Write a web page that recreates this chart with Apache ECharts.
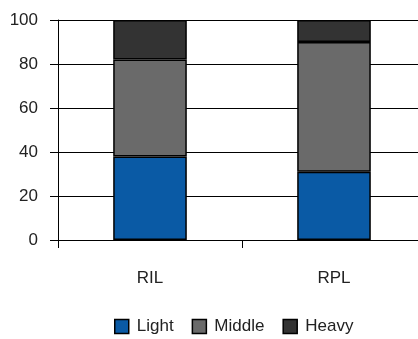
<!DOCTYPE html>
<html>
<head>
<meta charset="utf-8">
<script src="https://cdn.jsdelivr.net/npm/echarts@6/dist/echarts.min.js"></script>
<style>
  html, body { margin: 0; padding: 0; background: #fff; }
  #chart { width: 418px; height: 339px; }
</style>
</head>
<body>
<div id="chart"></div>
<script>
// Share of each class per group (percent, stacked to 100)
const categories = ['RIL', 'RPL'];
const lightValues = [38, 31];
const middleValues = [44, 59];
const heavyValues = [18, 10];
const yTicks = [0, 20, 40, 60, 80, 100];

const font = '"Liberation Sans", Arial, sans-serif';
const colors = { Light: '#0a5aa5', Middle: '#6a6a6a', Heavy: '#333333' };

function barSeries(name, data) {
  return {
    name: name,
    type: 'bar',
    stack: 'total',
    data: data,
    barWidth: '40%',
    itemStyle: { color: colors[name], borderColor: '#000', borderWidth: 1.5 },
    emphasis: { disabled: true }
  };
}

const chart = echarts.init(document.getElementById('chart'), null, { renderer: 'canvas' });
chart.setOption({
  animation: false,
  // plot area runs a little past the right edge of the canvas
  grid: { left: 58, top: 20, bottom: 99, width: 368, containLabel: false, outerBoundsMode: 'none' },
  legend: {
    top: 318,
    left: 114,
    padding: 0,
    itemWidth: 14,
    itemHeight: 14,
    itemGap: 18,
    icon: 'rect',
    textStyle: { fontFamily: font, fontSize: 17, color: '#222', padding: [0, 0, 0, 3] },
    data: ['Light', 'Middle', 'Heavy'].map(n => ({
      name: n,
      itemStyle: { color: colors[n], borderColor: '#000', borderWidth: 1.5 }
    }))
  },
  xAxis: {
    type: 'category',
    data: categories,
    axisLine: { lineStyle: { color: '#000', width: 1 } },
    axisTick: { show: true, length: 8, lineStyle: { color: '#000' } },
    axisLabel: { margin: 30, fontFamily: font, fontSize: 17, color: '#222' }
  },
  yAxis: {
    type: 'value',
    min: yTicks[0],
    max: yTicks[yTicks.length - 1],
    interval: yTicks[1] - yTicks[0],
    axisLine: { show: true, lineStyle: { color: '#000', width: 1 } },
    axisTick: { show: true, length: 8, lineStyle: { color: '#000' } },
    splitLine: { show: true, lineStyle: { color: '#000', width: 1 } },
    axisLabel: { margin: 20, fontFamily: font, fontSize: 17, color: '#222' }
  },
  series: [
    barSeries('Light', lightValues),
    barSeries('Middle', middleValues),
    barSeries('Heavy', heavyValues)
  ]
});
</script>
</body>
</html>
